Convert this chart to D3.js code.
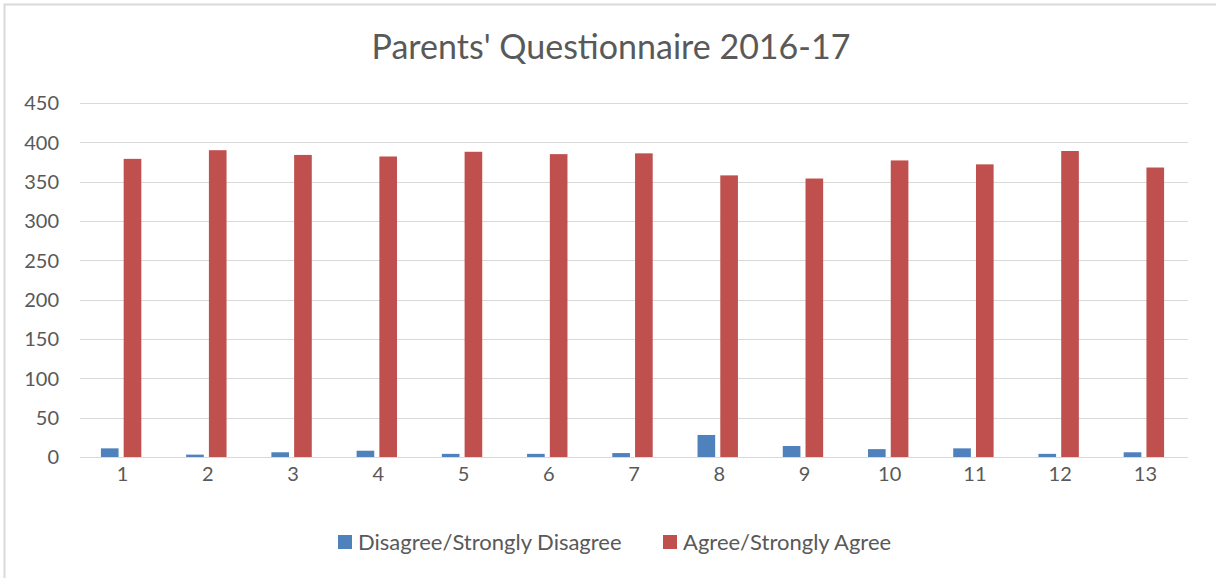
<!DOCTYPE html>
<html>
<head>
<meta charset="utf-8">
<script src="https://cdn.jsdelivr.net/npm/d3@7"></script>
<style>
  body { margin: 0; background: #fff; }
  text { font-family: Lato, "Open Sans", sans-serif; fill: #595959; }
</style>
</head>
<body>
<div id="chart"></div>
<script>
// Chart data
let questions = ["1", "2", "3", "4", "5", "6", "7", "8", "9", "10", "11", "12", "13"];
let disagree = [11, 3, 6, 8, 4, 4, 5, 28, 14, 10, 11, 4, 6];
let agree = [379, 390, 384, 382, 388, 385, 386, 358, 354, 377, 372, 389, 368];
let yTicks = [0, 50, 100, 150, 200, 250, 300, 350, 400, 450];
let seriesNames = ["Disagree/Strongly Disagree", "Agree/Strongly Agree"];
let colors = ["#4f81bd", "#c0504d"];

let W = 1216, H = 578;
let margin = {top: 103, right: 28, bottom: 121, left: 80};
let width = W - margin.left - margin.right,
    height = H - margin.top - margin.bottom;

let svg = d3.select("#chart").append("svg")
    .attr("width", W)
    .attr("height", H);

// outer chart border
svg.append("rect")
    .attr("x", 4.5).attr("y", 4.5)
    .attr("width", W + 10).attr("height", H + 10)
    .attr("fill", "none")
    .attr("stroke", "#d9d9d9")
    .attr("stroke-width", 2);

let g = svg.append("g")
    .attr("transform", `translate(${margin.left},${margin.top})`);

let xScale = d3.scaleBand()
    .domain(questions)
    .range([0, width]);

let yScale = d3.scaleLinear()
    .domain([0, 450])
    .range([height, 0]);

// gridlines
g.selectAll(".grid")
    .data(yTicks)
    .enter().append("line")
    .attr("x1", 0)
    .attr("x2", width)
    .attr("y1", d => Math.round(yScale(d)) + 0.5)
    .attr("y2", d => Math.round(yScale(d)) + 0.5)
    .attr("stroke", "#d9d9d9")
    .attr("stroke-width", 1);

// y axis labels
g.selectAll(".ylabel")
    .data(yTicks)
    .enter().append("text")
    .attr("x", -21)
    .attr("y", d => yScale(d))
    .attr("dy", "0.36em")
    .attr("text-anchor", "end")
    .style("font-size", "20px")
    .text(d => d);

let barW = xScale.bandwidth() * 0.207;
let gap = xScale.bandwidth() * 0.06;

// disagree bars
g.selectAll(".bar-dis")
    .data(disagree)
    .enter().append("rect")
    .attr("x", (d, i) => xScale(questions[i]) + xScale.bandwidth() / 2 - 1.5 - gap / 2 - barW)
    .attr("width", barW)
    .attr("y", d => yScale(d))
    .attr("height", d => height - yScale(d))
    .attr("fill", colors[0]);

// agree bars
g.selectAll(".bar-agr")
    .data(agree)
    .enter().append("rect")
    .attr("x", (d, i) => xScale(questions[i]) + xScale.bandwidth() / 2 - 1.5 + gap / 2)
    .attr("width", barW)
    .attr("y", d => yScale(d))
    .attr("height", d => height - yScale(d))
    .attr("fill", colors[1]);

// x axis labels
g.selectAll(".xlabel")
    .data(questions)
    .enter().append("text")
    .attr("x", d => xScale(d) + xScale.bandwidth() / 2)
    .attr("y", height + 10)
    .attr("dy", "0.72em")
    .attr("text-anchor", "middle")
    .style("font-size", "20px")
    .text(d => d);

// title
svg.append("text")
    .attr("x", 611)
    .attr("y", 59)
    .attr("text-anchor", "middle")
    .style("font-size", "34px")
    .text("Parents' Questionnaire 2016-17");

// legend
let legend = svg.append("g").attr("transform", "translate(0,542)");
let legendX = [338, 663];
seriesNames.forEach((name, i) => {
    legend.append("rect")
        .attr("x", legendX[i])
        .attr("y", -7)
        .attr("width", 14)
        .attr("height", 14)
        .attr("fill", colors[i]);
    legend.append("text")
        .attr("x", legendX[i] + 20)
        .attr("y", 0)
        .attr("dy", "0.36em")
        .style("font-size", "22px")
        .text(name);
});
</script>
</body>
</html>
